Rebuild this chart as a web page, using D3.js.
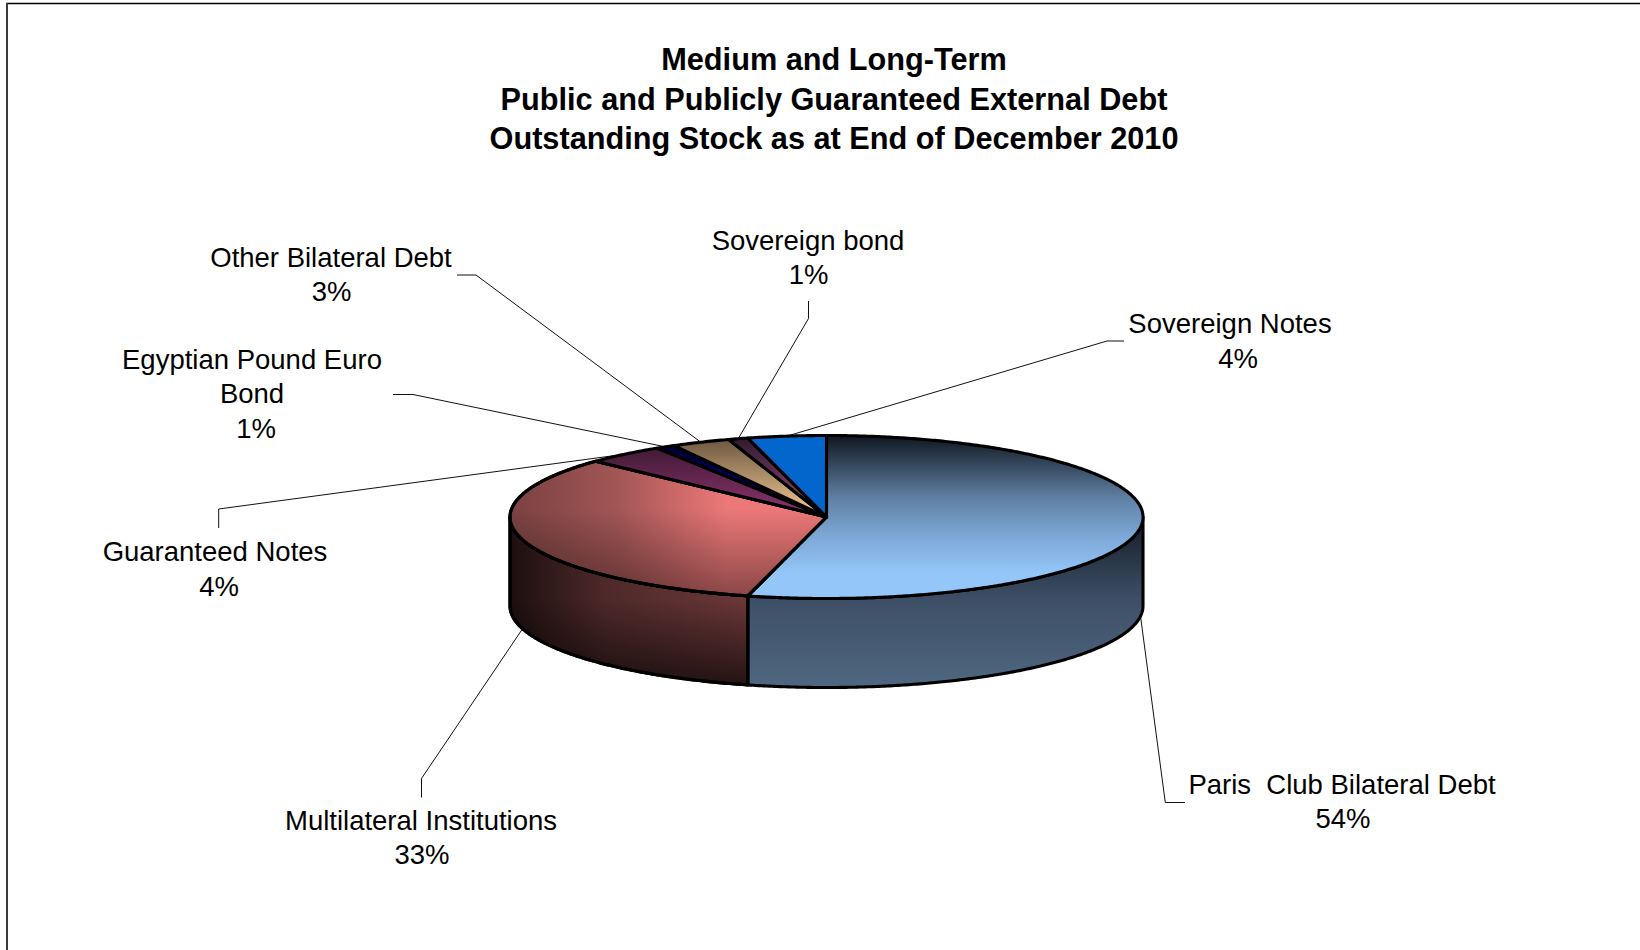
<!DOCTYPE html>
<html>
<head>
<meta charset="utf-8">
<script src="https://cdn.jsdelivr.net/npm/d3@7"></script>
<style>
html,body{margin:0;padding:0;background:#fff;overflow:hidden}
svg{display:block}
text{font-family:"Liberation Sans",Arial,sans-serif;fill:#000}
</style>
</head>
<body>
<svg id="chart" width="1640" height="950"></svg>
<script>
// Debt composition, percent of outstanding stock, clockwise from twelve o'clock
const categories = ["Paris  Club Bilateral Debt","Multilateral Institutions","Guaranteed Notes","Egyptian Pound Euro Bond","Other Bilateral Debt","Sovereign bond","Sovereign Notes"];
const shares = [54,33,4,1,3,1,4];
const titleLines = ["Medium and Long-Term","Public and Publicly Guaranteed External Debt","Outstanding Stock as at End of December 2010"];

// Wrapped label text and anchors, one entry per category
const labelRows = [["Paris  Club Bilateral Debt"],["Multilateral Institutions"],["Guaranteed Notes"],["Egyptian Pound Euro","Bond"],["Other Bilateral Debt"],["Sovereign bond"],["Sovereign Notes"]];
const labelAnchors = [[1342,793.5],[421,829.5],[215,560.5],[252,368.5],[331,266.5],[808,249.5],[1230,332.5]];
const pctAnchors = [[1343,827.5],[422,863.5],[219,595.5],[256,437.5],[331.5,300.5],[808.5,283.5],[1238,367.5]];
const elbows = [[[1185,802.5],[1165.3,802.5]],[[421.5,797.5],[421.5,778.5]],[[218.7,528],[218.7,509]],[[393,394.5],[413,394.5]],[[457,275],[476,275]],[[808.5,301],[808.5,318.5]],[[1124,341],[1107,341]]];

const svg = d3.select("#chart");
const cx = 826.5, cy = 517, rx = 316.5, ry = 81.5, depth = 89;
const px = d3.scaleLinear().domain([-1,1]).range([cx-rx,cx+rx]);
const py = d3.scaleLinear().domain([-1,1]).range([cy-ry,cy+ry]);
const rimX = a => px(Math.sin(a));
const rimY = a => py(-Math.cos(a));
const line = d3.line();
const step = Math.PI/360;
const sweep = (a0,a1) => {
  const n = Math.max(2,Math.ceil((a1-a0)/step));
  return d3.range(n+1).map(i => a0+(a1-a0)*i/n);
};

const arcs = d3.pie().sort(null).value(d=>d)(shares);

// Gradients
const defs = svg.append("defs");
function grad(id,x1,y1,x2,y2,stops){
  const g = defs.append("linearGradient").attr("id",id).attr("gradientUnits","userSpaceOnUse")
    .attr("x1",x1).attr("y1",y1).attr("x2",x2).attr("y2",y2);
  stops.forEach(s=>g.append("stop").attr("offset",s[0]).attr("stop-color",s[1]).attr("stop-opacity",s[2]===undefined?1:s[2]));
  return `url(#${id})`;
}
const topY = cy-ry, botY = cy+ry;
const topFills = [
  grad("parisTop",0,topY,0,botY-25,[[0,"#10161f"],[0.45,"#5f80a3"],[0.72,"#7ca6d4"],[1,"#94c6f9"]]),
  grad("multiH",cx-rx,0,cx-100,0,[[0,"#7a4141"],[0.5,"#a35656"],[0.8,"#d06a6a"],[1,"#ec7878"]]),
  grad("guarTop",0,topY+10,0,cy,[[0,"#3e1a33"],[1,"#8f3470"]]),
  grad("egpTop",0,topY+10,0,cy,[[0,"#00002e"],[1,"#000088"]]),
  grad("otherTop",0,topY,0,cy,[[0,"#66523c"],[1,"#f8cc96"]]),
  grad("bondTop",0,topY,0,cy,[[0,"#2a1a2c"],[1,"#a0487c"]]),
  "#0366cd"
];
const multiShade = grad("multiV",0,cy-8,0,botY,[[0,"#000",0],[1,"#000",0.42]]);
const parisSide = grad("parisSide",0,cy,0,cy+165,[[0,"#141c25"],[0.5,"#3d4f66"],[1,"#4e667f"]]);
const multiSideH = grad("multiSideH",cx-rx,0,rimX(arcs[0].endAngle),0,[[0,"#1d0f0f"],[0.4,"#4e2929"],[1,"#6c3838"]]);
const multiSideV = grad("multiSideV",0,botY,0,botY+depth,[[0,"#000",0],[1,"#000",0.68]]);

// Leader lines sit beneath the pie and run to each slice's mid-angle on the rim
const leaders = svg.append("g").attr("fill","none").attr("stroke","#111").attr("stroke-width",1);
arcs.forEach((d,i)=>{
  const mid = (d.startAngle+d.endAngle)/2;
  const front = Math.cos(mid) < 0;
  const end = [rimX(mid), rimY(mid)+(front?depth:0)];
  leaders.append("path").attr("d",line([...elbows[i],end]));
});

// Front wall: only the part of the rim facing the viewer
const pie = svg.append("g").attr("stroke","#000").attr("stroke-width",3.1).attr("stroke-linejoin","round");
function wall(a0,a1){
  const pts = sweep(a0,a1);
  const upper = pts.map(a=>[rimX(a),rimY(a)]);
  const lower = pts.slice().reverse().map(a=>[rimX(a),rimY(a)+depth]);
  return line([...upper,...lower])+"Z";
}
const wallD0 = wall(Math.PI/2,arcs[0].endAngle);
const wallD1 = wall(arcs[1].startAngle,3*Math.PI/2);
pie.append("path").attr("d",wallD0).attr("fill",parisSide);
pie.append("path").attr("d",wallD1).attr("fill",multiSideH);
pie.append("path").attr("d",wallD1).attr("fill",multiSideV).attr("stroke","none");
pie.append("path").attr("d",wallD1).attr("fill","none");

// Top face of each slice
arcs.forEach((d,i)=>{
  const p = line([[cx,cy],...sweep(d.startAngle,d.endAngle).map(a=>[rimX(a),rimY(a)])])+"Z";
  pie.append("path").attr("d",p).attr("fill",topFills[i]);
  if(i===1){
    pie.append("path").attr("d",p).attr("fill",multiShade).attr("stroke","none");
    pie.append("path").attr("d",p).attr("fill","none");
  }
});

// Outer frame: top and left rules only
svg.append("line").attr("x1",6).attr("x2",1640).attr("y1",3.5).attr("y2",3.5).attr("stroke","#000").attr("stroke-width",1.4);
svg.append("line").attr("x1",7).attr("x2",7).attr("y1",3).attr("y2",950).attr("stroke","#3c3c3c").attr("stroke-width",2);

// Title
svg.append("g").selectAll("text").data(titleLines).join("text")
  .attr("x",834).attr("y",(d,i)=>70+i*39.7)
  .attr("text-anchor","middle").attr("font-weight","bold").attr("font-size",30.7).text(d=>d);

// Slice labels
const labels = svg.append("g").attr("font-size",27.5).attr("text-anchor","middle");
labelRows.forEach((rows,i)=>{
  const [lx,ly] = labelAnchors[i];
  rows.forEach((r,j)=>{
    labels.append("text").attr("xml:space","preserve").style("white-space","pre")
      .attr("x",lx).attr("y",ly+j*34.8).text(r);
  });
  labels.append("text").attr("x",pctAnchors[i][0]).attr("y",pctAnchors[i][1]).text(shares[i]+"%");
});
</script>
</body>
</html>
